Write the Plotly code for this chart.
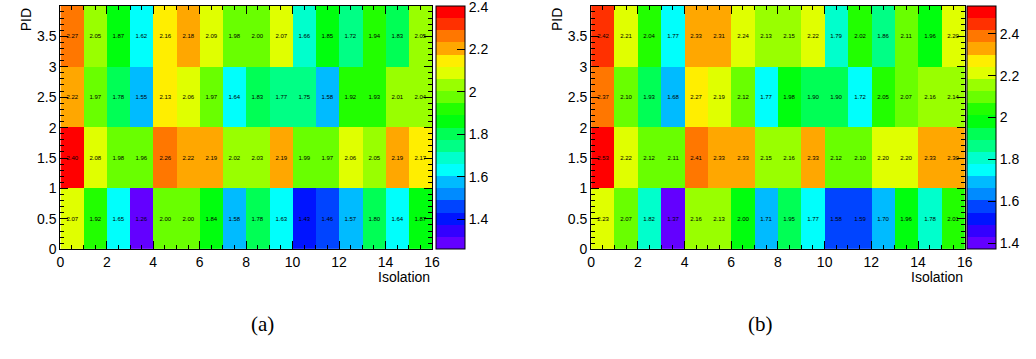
import colorsys
import plotly.graph_objects as go

# Bin edges
iso_edges = list(range(0, 17))
pid_edges = [0, 1, 2, 3, 4]

# (a) rows ordered from PID bin 0 to PID bin 3
vals_a = [
    [2.07, 1.92, 1.65, 1.26, 2.00, 2.00, 1.84, 1.58, 1.78, 1.63, 1.43, 1.46, 1.57, 1.80, 1.64, 1.87],
    [2.40, 2.08, 1.98, 1.96, 2.26, 2.22, 2.19, 2.02, 2.03, 2.19, 1.99, 1.97, 2.06, 2.05, 2.19, 2.17],
    [2.22, 1.97, 1.78, 1.55, 2.13, 2.06, 1.97, 1.64, 1.83, 1.77, 1.75, 1.58, 1.92, 1.93, 2.01, 2.04],
    [2.27, 2.05, 1.87, 1.62, 2.16, 2.18, 2.09, 1.98, 2.00, 2.07, 1.66, 1.85, 1.72, 1.94, 1.83, 2.05],
]
# (b)
vals_b = [
    [2.23, 2.07, 1.82, 1.37, 2.16, 2.13, 2.00, 1.71, 1.95, 1.77, 1.58, 1.59, 1.70, 1.96, 1.78, 2.01],
    [2.53, 2.22, 2.12, 2.11, 2.41, 2.33, 2.33, 2.15, 2.16, 2.33, 2.12, 2.10, 2.20, 2.20, 2.33, 2.30],
    [2.37, 2.10, 1.93, 1.68, 2.27, 2.19, 2.12, 1.77, 1.98, 1.90, 1.90, 1.72, 2.05, 2.07, 2.16, 2.14],
    [2.42, 2.21, 2.04, 1.77, 2.33, 2.31, 2.24, 2.13, 2.15, 2.22, 1.79, 2.02, 1.86, 2.11, 1.96, 2.20],
]

cbar_ticks_a = [1.4, 1.6, 1.8, 2.0, 2.2, 2.4]
cbar_ticks_b = [1.4, 1.6, 1.8, 2.0, 2.2, 2.4]
x_ticks = [0, 2, 4, 6, 8, 10, 12, 14, 16]
y_ticks = [0, 0.5, 1, 1.5, 2, 2.5, 3, 3.5, 4]
captions = ["(a)", "(b)"]


def pretty_color(i, n=50):
    """Violet->red HLS spectrum, hue stepping down from 280."""
    hue = 280.0 - (i + 1) * 280.0 / n
    r, g, b = colorsys.hls_to_rgb(hue / 360.0, 0.5, 1.0)
    return f"rgb({round(r*255)},{round(g*255)},{round(b*255)})"


def banded_scale(ncont=20, ncol=50):
    scale = []
    for k in range(ncont):
        c = pretty_color(int((k + 0.99) * ncol / ncont), ncol)
        scale.append([k / ncont, c])
        scale.append([(k + 1) / ncont, c])
    return scale


W, H = 1036, 359
FONT = "Liberation Sans"
scale = banded_scale()

# pixel geometry of the two frames
py_top, py_bot = 6, 255
panels = [
    dict(x0=57, x1=433, cb=437, cap=248),
    dict(x0=594, x1=972, cb=974, cap=780),
]


def fx(px):
    return px / W


def fy(py):
    return 1 - py / H


fig = go.Figure()

for n, (vals, ticks) in enumerate([(vals_a, cbar_ticks_a), (vals_b, cbar_ticks_b)]):
    sfx = "" if n == 0 else str(n + 1)
    flat = [v for row in vals for v in row]
    fig.add_trace(go.Heatmap(
        x=iso_edges, y=pid_edges, z=vals,
        xaxis="x" + sfx, yaxis="y" + sfx,
        coloraxis="coloraxis" + sfx,
        texttemplate="%{z:.2f}",
        textfont=dict(family=FONT, size=6, color="black"),
        hoverinfo="skip",
    ))
    p = panels[n]
    fig.layout["coloraxis" + sfx] = dict(
        colorscale=scale, cmin=min(flat), cmax=max(flat) + 0.002,
        colorbar=dict(
            x=fx(p["cb"]), xanchor="left", xpad=0,
            y=fy(py_bot), yanchor="bottom", ypad=0,
            len=(py_bot - py_top) / H, lenmode="fraction",
            thickness=29, thicknessmode="pixels",
            outlinewidth=1, outlinecolor="black",
            tickvals=ticks, ticktext=[f"{t:g}" for t in ticks],
            ticks="inside", ticklen=8, tickcolor="black",
            ticklabeloverflow="allow",
            tickfont=dict(family=FONT, size=14, color="black"),
        ),
    )
    fig.layout["xaxis" + sfx] = dict(
        domain=[fx(p["x0"]), fx(p["x1"])], anchor="y" + sfx,
        range=[0, 16], tickvals=x_ticks, ticks="inside", ticklen=8,
        minor=dict(dtick=0.5, ticklen=4, ticks="inside", tickcolor="black"),
        showline=True, linecolor="black", linewidth=1, mirror="ticks",
        showgrid=False, zeroline=False, tickcolor="black",
        tickfont=dict(family=FONT, size=14, color="black"),
    )
    fig.layout["yaxis" + sfx] = dict(
        domain=[fy(py_bot), fy(py_top)], anchor="x" + sfx,
        range=[0, 4], tickvals=y_ticks, ticktext=[f"{t:g}" for t in y_ticks],
        ticks="inside", ticklen=8,
        minor=dict(dtick=0.1, ticklen=4, ticks="inside", tickcolor="black"),
        showline=True, linecolor="black", linewidth=1, mirror="ticks",
        showgrid=False, zeroline=False, tickcolor="black",
        tickfont=dict(family=FONT, size=14, color="black"),
    )
    # axis titles
    fig.add_annotation(x=fx(p["x1"]), y=fy(py_bot + 18), xref="paper", yref="paper",
                       text="Isolation", showarrow=False, xanchor="right", yanchor="top",
                       font=dict(family=FONT, size=14, color="black"))
    fig.add_annotation(x=fx(p["x0"] - 44), y=fy(py_top), xref="paper", yref="paper",
                       text="PID", showarrow=False, textangle=-90, xanchor="left", yanchor="top",
                       font=dict(family=FONT, size=14, color="black"))
    # sub-figure caption
    fig.add_annotation(x=fx(p["cap"]), y=fy(346), xref="paper", yref="paper",
                       text=captions[n], showarrow=False,
                       font=dict(family="Liberation Serif", size=21, color="black"))

fig.update_layout(
    width=W, height=H,
    margin=dict(l=0, r=0, t=0, b=0),
    paper_bgcolor="white", plot_bgcolor="white",
    showlegend=False,
)

fig.write_html("out.html")
